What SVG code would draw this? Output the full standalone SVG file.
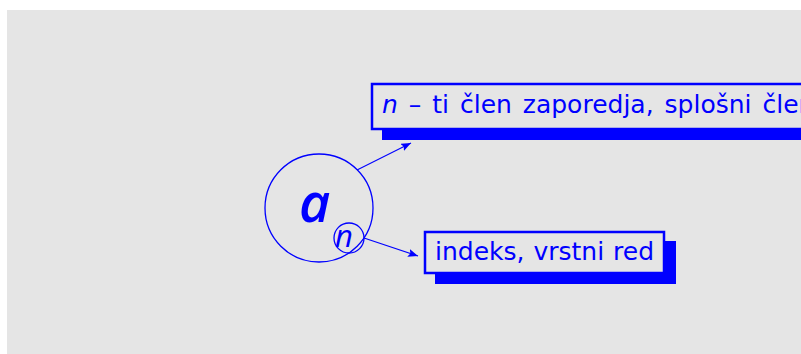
<svg xmlns="http://www.w3.org/2000/svg" width="801" height="354" viewBox="0 0 801 354">
<style>
.lbl{font-family:"DejaVu Sans",sans-serif;font-size:25px;fill:#0000ff}
.box{fill:#e5e5e5;stroke:#0000ff;stroke-width:2.5}
.shadow{fill:#0000ff}
.conn{stroke:#0000ff;stroke-width:1.2;fill:none;marker-end:url(#ah)}
.sym{font-family:"Open Sans",sans-serif;font-style:italic;fill:#0000ff}
</style>
<defs>
<marker id="ah" viewBox="0 0 10 8" refX="10" refY="4" markerWidth="10" markerHeight="8" markerUnits="userSpaceOnUse" orient="auto">
<path d="M0,0 L10,4 L0,8 L2,4 Z" fill="#0000ff"/>
</marker>
</defs>
<rect x="0" y="0" width="801" height="354" fill="#ffffff"/>
<rect x="7" y="10" width="794" height="344" fill="#e5e5e5"/>
<g id="term">
<circle cx="319" cy="208" r="54" fill="none" stroke="#0000ff" stroke-width="1.3"/>
<text class="sym" x="299" y="222" font-size="54" font-weight="600">a</text>
</g>
<g id="index">
<circle cx="349" cy="238" r="15" fill="none" stroke="#0000ff" stroke-width="1.3"/>
<text class="sym" x="335" y="247" font-size="31">n</text>
</g>
<g id="connectors">
<line class="conn" x1="357" y1="170" x2="411" y2="143"/>
<line class="conn" x1="364" y1="238" x2="418" y2="256"/>
</g>
<g id="label1">
<rect class="shadow" x="382" y="94" width="430" height="46"/>
<rect class="box" x="372" y="84" width="440" height="45"/>
<text class="lbl" x="382" y="113" word-spacing="3"><tspan font-style="italic">n</tspan> – ti člen zaporedja, splošni člen</text>
</g>
<g id="label2">
<rect class="shadow" x="435" y="241" width="241" height="43"/>
<rect class="box" x="425" y="232" width="239" height="41"/>
<text class="lbl" x="435" y="260" word-spacing="1">indeks, vrstni red</text>
</g>
</svg>
